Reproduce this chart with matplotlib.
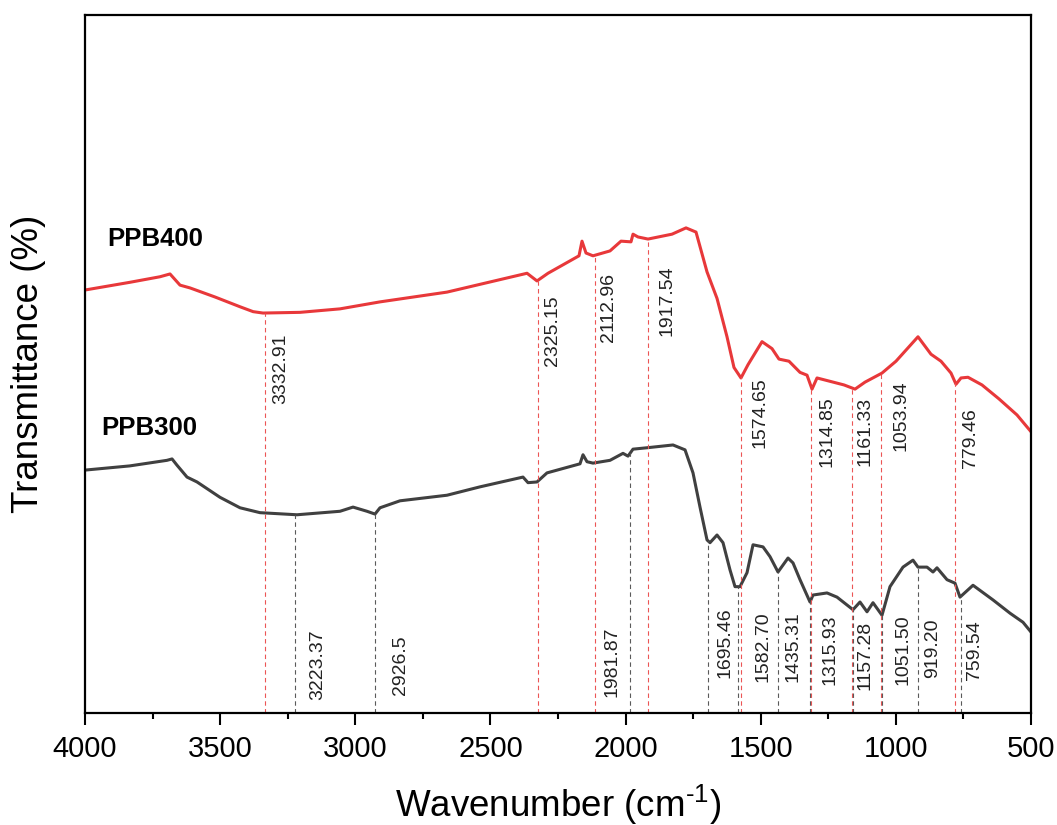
import numpy as np
import matplotlib
matplotlib.use("Agg")
import matplotlib.pyplot as plt
from matplotlib.transforms import offset_copy

plt.rcParams['font.family'] = ['Liberation Sans', 'DejaVu Sans']
plt.rcParams['mathtext.fontset'] = 'custom'
plt.rcParams['mathtext.rm'] = 'Liberation Sans'
plt.rcParams['mathtext.it'] = 'Liberation Sans'

# ---------------- data ----------------
ppb400_wn = [4000, 3834.5, 3722.5, 3685.5, 3648.5, 3611.5, 3519, 3426.5, 3378, 3341.4,
             3204.5, 3056.5, 2908.6, 2660.7, 2364.6, 2327.7, 2287, 2172.3, 2161.2, 2146.4,
             2120.5, 2057.6, 2016.9, 1979.9, 1972.5, 1954, 1917, 1828.2, 1776.4, 1739.4,
             1698.7, 1661.7, 1624.7, 1598.9, 1573, 1547, 1495.2, 1458.2, 1432.4, 1395.4,
             1354.6, 1328.7, 1310.2, 1291.7, 1191.8, 1151.1, 1114.2, 1051.3, 999.5, 918.1,
             870, 833, 796, 777.5, 759, 733.1, 681.3, 618.4, 551.8, 500]
ppb400_T = [60.6, 61.7, 62.5, 62.9, 61.3, 60.9, 59.6, 58.2, 57.5, 57.3,
            57.4, 57.9, 58.9, 60.3, 63.0, 61.9, 63.0, 65.5, 67.6, 65.9,
            65.5, 66.2, 67.6, 67.5, 68.6, 68.2, 67.9, 68.6, 69.5, 68.9,
            63.2, 59.4, 53.9, 49.5, 48.0, 49.9, 53.2, 52.2, 50.7, 50.4,
            48.8, 48.4, 46.4, 48.0, 47.0, 46.4, 47.4, 48.7, 50.4, 53.9,
            51.4, 50.4, 48.7, 47.1, 48.0, 48.1, 47.0, 45.0, 42.7, 40.3]

ppb300_wn = [4000, 3834.5, 3696.6, 3678, 3659.6, 3622.6, 3585.6, 3500.5, 3426.5, 3352.5,
             3215.6, 3056.5, 3008.4, 2956.7, 2927, 2908.6, 2834.6, 2660.7, 2538.6, 2379.5,
             2361, 2327.7, 2290.7, 2168.6, 2157.5, 2142.7, 2120.5, 2057.6, 2009.5, 1991,
             1972.5, 1920.7, 1824.5, 1780, 1750.5, 1724.6, 1698.7, 1687.6, 1661.7, 1639.5,
             1613.6, 1595.1, 1576.6, 1550.7, 1528.5, 1491.5, 1465.6, 1436, 1399, 1380.5,
             1354.6, 1317.6, 1306.5, 1254.7, 1217.7, 1158.6, 1132.7, 1106.7, 1084.6, 1051.3,
             1021.7, 973.6, 936.6, 918.1, 884.8, 862.6, 847.8, 810.8, 781.2, 762.7,
             714.6, 640.6, 577.7, 529.6, 500]
ppb300_T = [34.8, 35.4, 36.2, 36.4, 35.5, 33.8, 33.1, 30.9, 29.4, 28.7,
            28.4, 28.9, 29.5, 28.9, 28.5, 29.4, 30.4, 31.2, 32.4, 33.8,
            33.0, 33.1, 34.4, 35.7, 37.0, 36.0, 35.8, 36.2, 37.2, 36.8,
            37.8, 38.0, 38.4, 37.7, 34.4, 29.5, 24.8, 24.4, 25.5, 24.4,
            20.5, 18.1, 18.1, 20.1, 24.1, 23.8, 22.4, 20.2, 22.2, 21.5,
            19.1, 15.9, 16.9, 17.2, 16.6, 14.8, 15.9, 14.5, 15.8, 14.0,
            18.1, 20.9, 21.9, 20.9, 20.9, 20.2, 20.8, 19.1, 18.6, 16.6,
            18.3, 16.2, 14.3, 13.0, 11.6]

peaks400 = [3332.91, 2325.15, 2112.96, 1917.54, 1574.65, 1314.85, 1161.33, 1053.94, 779.46]
peaks400_labels = ['3332.91', '2325.15', '2112.96', '1917.54', '1574.65', '1314.85',
                   '1161.33', '1053.94', '779.46']
peaks300 = [3223.37, 2926.5, 1981.87, 1695.46, 1582.70, 1435.31, 1315.93, 1157.28,
            1051.50, 919.20, 759.54]
peaks300_labels = ['3223.37', '2926.5', '1981.87', '1695.46', '1582.70', '1435.31',
                   '1315.93', '1157.28', '1051.50', '919.20', '759.54']

# ---------------- layout (annotation placement) ----------------
lab400_top = [54.4, 59.9, 63.0, 64.2, 48.1, 45.4, 45.3, 47.7, 43.7]
lab400_dx = [15, 15, 13, 19, 19, 16, 13, 20, 15]          # pixels right of line
lab300_bottom = [1.9, 2.6, 2.3, 5.0, 4.4, 4.4, 4.0, 3.3, 4.0, 5.0, 4.7]
lab300_dx = [23, 25, -18, 17, 25, 15, 20, 12, 21, 15, 14]

RED = '#E8383A'
GRAY = '#404040'

fig = plt.figure(figsize=(10.57, 8.25), dpi=100)
ax = fig.add_axes([85 / 1057, 1 - 713 / 825, 946 / 1057, 698 / 825])

ax.plot(ppb400_wn, ppb400_T, color=RED, lw=2.2, solid_joinstyle='round')
ax.plot(ppb300_wn, ppb300_T, color=GRAY, lw=2.2, solid_joinstyle='round')

def curve_at(xs, ys, x):
    return np.interp(x, xs[::-1], ys[::-1])

w4 = np.array(ppb400_wn); t4 = np.array(ppb400_T)
w3 = np.array(ppb300_wn); t3 = np.array(ppb300_T)

for p, lab, ty, dx in zip(peaks400, peaks400_labels, lab400_top, lab400_dx):
    ax.plot([p, p], [0, curve_at(w4, t4, p)], color='#EC5555', lw=0.8, ls=(0, (4, 3)))
    tr = offset_copy(ax.transData, fig=fig, x=dx, y=0, units='dots')
    ax.text(p, ty, lab, rotation=90, ha='center', va='top', fontsize=14,
            color='#222222', transform=tr)

for p, lab, ty, dx in zip(peaks300, peaks300_labels, lab300_bottom, lab300_dx):
    ax.plot([p, p], [0, curve_at(w3, t3, p)], color='#5a5a5a', lw=0.8, ls=(0, (4, 3)))
    tr = offset_copy(ax.transData, fig=fig, x=dx, y=0, units='dots')
    ax.text(p, ty, lab, rotation=90, ha='center', va='bottom', fontsize=14,
            color='#222222', transform=tr)

ax.text(3918, 67.9, 'PPB400', fontsize=18.5, fontweight='bold', ha='left', va='center')
ax.text(3941, 40.8, 'PPB300', fontsize=18.5, fontweight='bold', ha='left', va='center')

ax.set_xlim(4000, 500)
ax.set_ylim(0, 100)
ax.set_yticks([])
ax.set_xticks([4000, 3500, 3000, 2500, 2000, 1500, 1000, 500])
ax.set_xticks(np.arange(3750, 500, -500), minor=True)
ax.tick_params(axis='x', which='major', direction='out', length=8.6, width=1.5,
               labelsize=21, pad=7)
ax.tick_params(axis='x', which='minor', direction='out', length=4.3, width=1.5)
for s in ax.spines.values():
    s.set_linewidth(1.6)

ax.set_xlabel('Wavenumber (cm$^{\\text{-1}}$)', fontsize=26.5)
ax.xaxis.set_label_coords(0.5, -0.100)
ax.set_ylabel('Transmittance (%)', fontsize=26.5)
ax.yaxis.set_label_coords(-0.041, 0.5)

fig.savefig('out.png', dpi=100)
